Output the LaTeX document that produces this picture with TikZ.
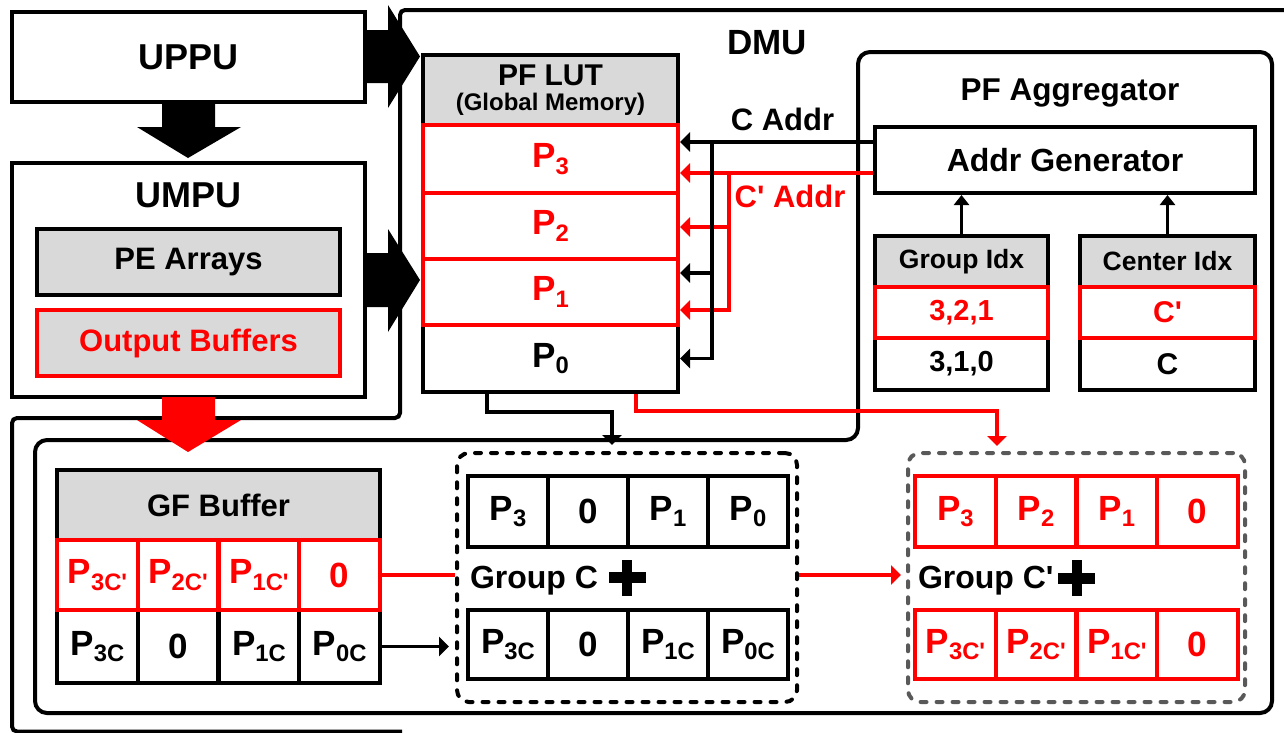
\documentclass[tikz,border=0pt]{standalone}
\usepackage{fontspec}
\setmainfont{Liberation Sans}[Ligatures=TeXOff]
\usepackage{graphicx}
\usetikzlibrary{arrows.meta,calc}
\definecolor{lg}{HTML}{D9D9D9}
\definecolor{rd}{HTML}{FF0000}
\definecolor{dg}{HTML}{595959}
\newcommand\fs[1]{\fontsize{#1}{#1}\selectfont}
\newcommand\sbx[1]{\raisebox{-0.18em}{\scalebox{0.68}{#1}}}
\newcommand\Pc[1]{P\sbx{#1}}
\begin{document}
\begin{tikzpicture}[x=1pt,y=-1pt,
  bx/.style={draw=black, line width=4pt, rectangle, inner sep=0pt},
  gbx/.style={bx, fill=lg},
  lbl/.style={inner sep=0pt, outer sep=0pt},
  cell/.style={bx, minimum width=80.75pt, minimum height=70pt, font=\bfseries\fs{35}},
  rcell/.style={cell, draw=rd, text=rd},
  bc/.style={draw=black, line width=3.5pt},
  rc/.style={draw=rd, line width=3.5pt},
  arrowend/.style={-{Triangle[length=10pt,width=19pt]}},
  upend/.style={-{Triangle[length=10pt,width=15pt]}},
  dbox/.style={draw, line width=4pt, dash pattern=on 6pt off 10pt, line cap=round, rounded corners=12pt, inner sep=0pt},
  ]
\useasboundingbox (0,0) rectangle (1284,732);

% ---------- outlines ----------
\draw[line width=4pt, rounded corners=5pt] (1300,10) -- (400,10) -- (400,418) -- (12,418) -- (12,731.5) -- (402,731.5);
\draw[line width=4pt, rounded corners=12pt] (400,440) -- (858,440) -- (858,52) -- (1272,52) -- (1272,713) -- (35,713) -- (35,440) -- cycle;

% ---------- left units ----------
\node[bx, minimum width=353pt, minimum height=90pt, font=\bfseries\fs{36}] (uppu) at (188.5,57) {UPPU};
\node[bx, minimum width=353pt, minimum height=234pt] (umpu) at (188.5,280) {};
\node[lbl, font=\bfseries\fs{36}] (umpuT) at (188.5,195) {UMPU};
\node[gbx, minimum width=303pt, minimum height=66pt, font=\bfseries\fs{31}] (pe) at (188.5,262) {PE Arrays};
\node[gbx, draw=rd, text=rd, minimum width=303pt, minimum height=66pt, font=\bfseries\fs{31}] (ob) at (188.5,343) {Output Buffers};

\node[lbl, font=\bfseries\fs{35}] (dmu) at (767,43) {DMU};

% ---------- PF LUT ----------
\node[gbx, minimum width=255pt, minimum height=70pt] (lutH) at (550.5,90) {};
\node[lbl, anchor=base, font=\bfseries\fs{30}] (lutT) at (550.5,85) {PF LUT};
\node[lbl, anchor=base, font=\bfseries\fs{24}] (lutG) at (550.5,110) {(Global Memory)};
\node[bx, minimum width=255pt, minimum height=67pt, font=\bfseries\fs{35}] (p0) at (550.5,358.5) {\Pc{0}};
\node[bx, draw=rd, text=rd, minimum width=255pt, minimum height=68pt, font=\bfseries\fs{35}] (p3) at (550.5,159) {\Pc{3}};
\node[bx, draw=rd, text=rd, minimum width=255pt, minimum height=66pt, font=\bfseries\fs{35}] (p2) at (550.5,226) {\Pc{2}};
\node[bx, draw=rd, text=rd, minimum width=255pt, minimum height=66pt, font=\bfseries\fs{35}] (p1) at (550.5,292) {\Pc{1}};

% ---------- PF Aggregator ----------
\node[lbl, anchor=base, font=\bfseries\fs{31.5}] (pfa) at (1070,100) {PF Aggregator};
\node[bx, minimum width=380pt, minimum height=66pt, font=\bfseries\fs{32}] (ag) at (1065,160) {Addr Generator};
\node[gbx, minimum width=173pt, minimum height=51pt, font=\bfseries\fs{26.5}] (gih) at (961.5,261.5) {Group Idx};
\node[bx, minimum width=173pt, minimum height=52pt, font=\bfseries\fs{29}] (gib) at (961.5,364) {3,1,0};
\node[bx, draw=rd, text=rd, minimum width=173pt, minimum height=51pt, font=\bfseries\fs{29}] (gir) at (961.5,312.5) {3,2,1};
\node[gbx, minimum width=175pt, minimum height=51pt, font=\bfseries\fs{26.5}] (cih) at (1167.5,261.5) {Center Idx};
\node[bx, minimum width=175pt, minimum height=52pt, font=\bfseries\fs{30}] (cib) at (1167.5,364) {C};
\node[bx, draw=rd, text=rd, minimum width=175pt, minimum height=51pt, font=\bfseries\fs{30}] (cir) at (1167.5,312.5) {C'};

\draw[bc, upend] (gih.north) -- (gih.north |- ag.south);
\draw[bc, upend] (cih.north) -- (cih.north |- ag.south);

% ---------- address buses ----------
\node[lbl, font=\bfseries\fs{31}] (caddr) at (782.5,119) {C Addr};
\node[lbl, font=\bfseries\fs{31}, text=rd] (cpaddr) at (790,196) {C' Addr};

\coordinate (cr1) at (729,173);
\coordinate (cr2) at (729,227);
\coordinate (cr3) at (729,310);
\draw[rc, arrowend] (ag.west |- cr1) -- (p3.east |- cr1);
\draw[rc, arrowend] (cr1) -- (cr3) -- (p1.east |- cr3);
\draw[rc, arrowend] (cr2) -- (p2.east |- cr2);

\coordinate (cb1) at (712,142);
\coordinate (cb2) at (712,273);
\coordinate (cb3) at (712,358.5);
\draw[bc, arrowend] (ag.west |- cb1) -- (p3.east |- cb1);
\draw[bc, arrowend] (cb1) -- (cb3) -- (p0.east |- cb3);
\draw[bc, arrowend] (cb2) -- (p1.east |- cb2);

% ---------- GF Buffer ----------
\node[gbx, minimum width=323pt, minimum height=70pt, font=\bfseries\fs{31}] (gfh) at (218.5,505) {GF Buffer};
\node[cell, minimum height=73pt] (g21) at (97.4,646.5) {\Pc{3C}};
\node[cell, minimum height=73pt] (g22) at (178.1,646.5) {0};
\node[cell, minimum height=73pt] (g23) at (258.9,646.5) {\Pc{1C}};
\node[cell, minimum height=73pt] (g24) at (339.6,646.5) {\Pc{0C}};
\node[rcell] (g11) at (97.4,575) {\Pc{3C'}};
\node[rcell] (g12) at (178.1,575) {\Pc{2C'}};
\node[rcell] (g13) at (258.9,575) {\Pc{1C'}};
\node[rcell] (g14) at (339.6,575) {0};

% ---------- Group C ----------
\node[dbox, minimum width=340pt, minimum height=249pt] (gc) at (627,577.5) {};
\node[cell, minimum width=80pt, minimum height=71pt] (t1) at (508,511.5) {\Pc{3}};
\node[cell, minimum width=80pt, minimum height=71pt] (t2) at (588,511.5) {0};
\node[cell, minimum width=80pt, minimum height=71pt] (t3) at (668,511.5) {\Pc{1}};
\node[cell, minimum width=80pt, minimum height=71pt] (t4) at (748,511.5) {\Pc{0}};
\node[cell, minimum width=80pt, minimum height=69pt] (b1) at (508,644.5) {\Pc{3C}};
\node[cell, minimum width=80pt, minimum height=69pt] (b2) at (588,644.5) {0};
\node[cell, minimum width=80pt, minimum height=69pt] (b3) at (668,644.5) {\Pc{1C}};
\node[cell, minimum width=80pt, minimum height=69pt] (b4) at (748,644.5) {\Pc{0C}};
\node[lbl, anchor=base west, font=\bfseries\fs{32}] (grpC) at (470,588) {Group C};
\coordinate (plusC) at (627,577.5);
\fill ($(plusC)+(-18.5,-5.5)$) rectangle ($(plusC)+(18.5,5.5)$);
\fill ($(plusC)+(-5,-18)$) rectangle ($(plusC)+(5,18)$);

% ---------- Group C' ----------
\node[dbox, draw=dg, minimum width=337pt, minimum height=249pt] (gcp) at (1076.5,577.5) {};
\node[rcell, minimum height=71pt] (u1) at (955.4,511.5) {\Pc{3}};
\node[rcell, minimum height=71pt] (u2) at (1036.1,511.5) {\Pc{2}};
\node[rcell, minimum height=71pt] (u3) at (1116.9,511.5) {\Pc{1}};
\node[rcell, minimum height=71pt] (u4) at (1197.6,511.5) {0};
\node[rcell, minimum height=69pt] (v1) at (955.4,644.5) {\Pc{3C'}};
\node[rcell, minimum height=69pt] (v2) at (1036.1,644.5) {\Pc{2C'}};
\node[rcell, minimum height=69pt] (v3) at (1116.9,644.5) {\Pc{1C'}};
\node[rcell, minimum height=69pt] (v4) at (1197.6,644.5) {0};
\node[lbl, anchor=base west, font=\bfseries\fs{32}] (grpCp) at (918,588) {Group C'};
\coordinate (plusCp) at (1076.5,578);
\fill ($(plusCp)+(-18.5,-5.5)$) rectangle ($(plusCp)+(18.5,5.5)$);
\fill ($(plusCp)+(-5,-18)$) rectangle ($(plusCp)+(5,18)$);

% ---------- bottom connectors ----------
\coordinate (k1) at (612,412);
\coordinate (k2) at (997,411);
\draw[bc, arrowend, shorten >=6pt] ([xshift=-63.5pt]p0.south) |- (k1) -- (k1 |- gc.north);
\draw[rc, arrowend, shorten >=5pt] ([xshift=85.5pt]p0.south) |- (k2) -- (k2 |- gcp.north);
\draw[rc] (g14.east) -- (gc.west |- g14.east);
\draw[rc, arrowend, shorten >=5pt] (gc.east |- g14.east) -- (gcp.west |- g14.east);
\draw[bc, arrowend, shorten >=6pt] (g24.east) -- (gc.west |- g24.east);

% ---------- big arrows ----------
\fill (365,30) -- (388,30) -- (388,5) -- (420,56.5) -- (388,108) -- (388,83) -- (365,83) -- cycle;
\fill (162,102) -- (215,102) -- (215,127) -- (241,127) -- (188,158) -- (137,127) -- (162,127) -- cycle;
\fill (365,253) -- (388,253) -- (388,229) -- (420,280) -- (388,332) -- (388,307) -- (365,307) -- cycle;
\fill[rd] (162,397) -- (215,397) -- (215,420) -- (241,420) -- (188,452) -- (137,420) -- (162,420) -- cycle;
\end{tikzpicture}
\end{document}
